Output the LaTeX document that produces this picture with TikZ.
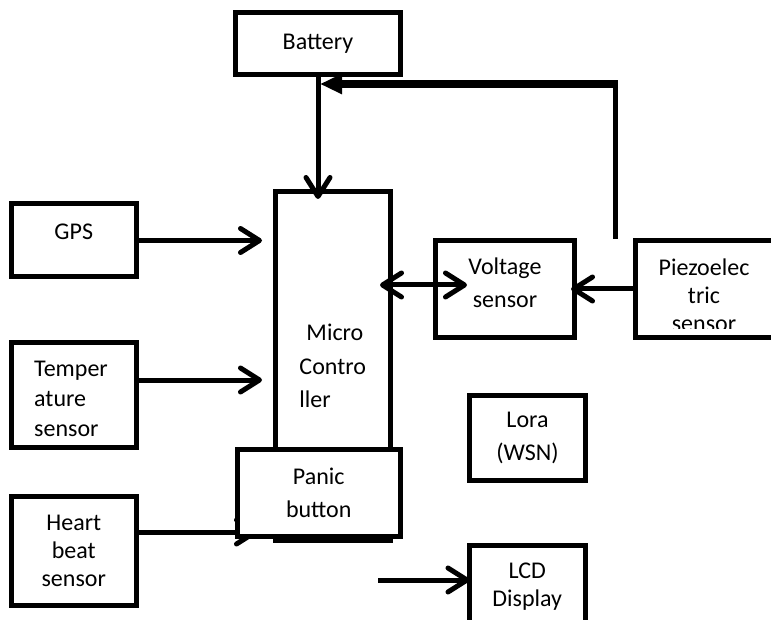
\documentclass[tikz,border=0pt]{standalone}
\usepackage{fontspec}
\setmainfont{Carlito}
\usetikzlibrary{arrows.meta}

\begin{document}
\begin{tikzpicture}
        [x=1pt, y=-1pt, font=\fontsize{24}{33}\selectfont,
        block/.style={rectangle, draw, line width=5pt, inner sep=0pt, outer sep=0pt, align=center},
        blockWhite/.style={block, fill=white},
        conn/.style={line width=5pt, -{Straight Barb[length=19pt, width=24pt, round]}},
        connBoth/.style={line width=5pt, {Straight Barb[length=19pt, width=24pt, round]}-{Straight Barb[length=19pt, width=24pt, round]}},
        connFill/.style={line width=8pt, -{Triangle[length=22pt, width=19pt]}}]
        \useasboundingbox (0,0) rectangle (771,620);

        \node[block, minimum width=165pt, minimum height=62pt] (bat) at (318,43.5) {Battery};
        \node[block, minimum width=114.5pt, minimum height=349pt, align=left, font=\fontsize{24}{33.5}\selectfont] (mc) at (332.75,366) {\hspace*{7pt}Micro\\Contro\\ller};
        \node[block, minimum width=124.5pt, minimum height=73pt] (gps) at (73.75,240.5) {};
        \node (gpsTxt) at (73.75,232) {GPS};
        \node[block, minimum width=124.5pt, minimum height=105pt] (temp) at (73.75,395) {};
        \node[align=left, font=\fontsize{24}{30}\selectfont] (tempTxt) at (71,399) {Temper\\ature\\sensor};
        \node[block, minimum width=124.5pt, minimum height=109.5pt, font=\fontsize{24}{28}\selectfont] (heart) at (73.75,550.75) {Heart\\beat\\sensor};
        \node[block, minimum width=139pt, minimum height=97pt] (volt) at (505,289) {};
        \node[align=center] (voltTxt) at (505,283) {Voltage\\sensor};
        \node[block, minimum width=140.5pt, minimum height=97pt] (piezo) at (705.75,289) {};
        \begin{scope}
            \clip (636,243) rectangle (771,328);
            \node[align=center, font=\fontsize{24}{28}\selectfont] (piezoTxt) at (704,295) {Piezoelec\\tric\\sensor};
        \end{scope}
        \node[block, minimum width=116pt, minimum height=85pt] (lora) at (527.5,438) {Lora\\(WSN)};
        \node[block, minimum width=115.5pt, minimum height=83pt, font=\fontsize{24}{28}\selectfont] (lcd) at (527.25,587) {LCD\\Display};

        \coordinate (mcTop) at (318,199);
        \coordinate (gpsIn) at (262,240.5);
        \coordinate (tempIn) at (262,380);
        \coordinate (heartIn) at (258,532);
        \coordinate (mcOut) at (380,285);
        \coordinate (voltIn) at (467,285);
        \coordinate (fb) at (615.5,239);
        \coordinate (fbTop) at (618,84);
        \coordinate (batIn) at (320,84);
        \coordinate (lcdIn) at (378,580);

        \draw[conn] (bat) -- (mcTop);
        \draw[conn] (gps) -- (gpsIn);
        \draw[conn] (temp.east |- tempIn) -- (tempIn);
        \draw[conn] (heart.east |- heartIn) -- (heartIn);
        \draw[connBoth] (mcOut) -- (voltIn);
        \draw[conn, shorten >=-3.5pt] (piezo) -- (volt);
        \draw[line width=5pt] (fb) -- (fb |- fbTop);
        \draw[connFill] (fbTop) -- (batIn);
        \draw[conn] (lcdIn) -- (lcdIn -| lcd.west);

        % panic button sits over the bottom of the controller
        \node[blockWhite, minimum width=162.5pt, minimum height=86.5pt, font=\fontsize{24}{33.5}\selectfont] (panic) at (318.75,492.75) {Panic\\button};
\end{tikzpicture}
\end{document}
